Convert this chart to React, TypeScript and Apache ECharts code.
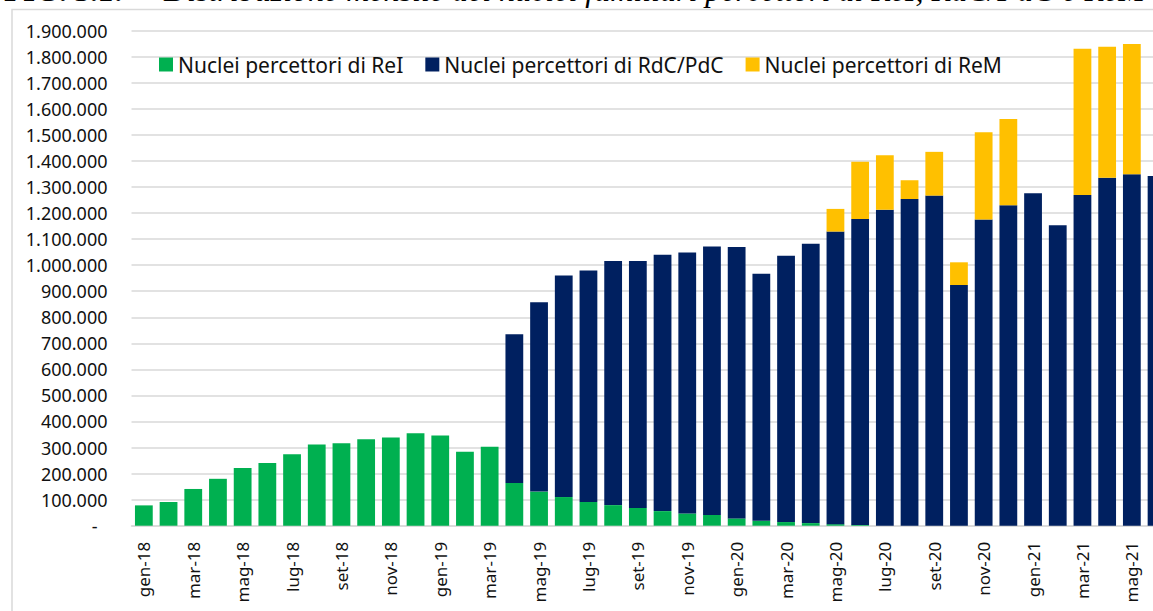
import React, { useEffect, useRef } from "react";
import * as echarts from "echarts";

const months = [
  "gen-18", "feb-18", "mar-18", "apr-18", "mag-18", "giu-18", "lug-18", "ago-18", "set-18", "ott-18", "nov-18", "dic-18",
  "gen-19", "feb-19", "mar-19", "apr-19", "mag-19", "giu-19", "lug-19", "ago-19", "set-19", "ott-19", "nov-19", "dic-19",
  "gen-20", "feb-20", "mar-20", "apr-20", "mag-20", "giu-20", "lug-20", "ago-20", "set-20", "ott-20", "nov-20", "dic-20",
  "gen-21", "feb-21", "mar-21", "apr-21", "mag-21", "giu-21",
];

const reiValues = [
  78000, 91000, 141000, 180000, 221000, 241000, 274000, 312000, 316000, 332000, 339000, 355000,
  346000, 284000, 303000, 164000, 131000, 110000, 91000, 79000, 68000, 56000, 47000, 41000,
  28000, 19000, 14000, 10000, 6000, 3000, 0, 0, 0, 0, 0, 0,
  0, 0, 0, 0, 0, 0,
];

const rdcValues = [
  0, 0, 0, 0, 0, 0, 0, 0, 0, 0, 0, 0,
  0, 0, 0, 571000, 727000, 850000, 889000, 937000, 948000, 984000, 1002000, 1031000,
  1042000, 948000, 1022000, 1072000, 1123000, 1174000, 1213000, 1254000, 1267000, 924000, 1175000, 1230000,
  1276000, 1153000, 1269000, 1336000, 1349000, 1342000,
];

const remValues = [
  0, 0, 0, 0, 0, 0, 0, 0, 0, 0, 0, 0,
  0, 0, 0, 0, 0, 0, 0, 0, 0, 0, 0, 0,
  0, 0, 0, 0, 87000, 220000, 209000, 72000, 168000, 87000, 335000, 331000,
  0, 0, 562000, 502000, 500000, 0,
];

const seriesNames = [
  "Nuclei percettori di ReI",
  "Nuclei percettori di RdC/PdC",
  "Nuclei percettori di ReM",
];

const seriesColors = ["#00B050", "#002060", "#FFC000"];

const titleBold = "FIG. 3.1:";
const titleItalic = "Distribuzione mensile dei nuclei familiari percettori di ReI, RdC/PdC e ReM";

const fmt = (v: number) =>
  v === 0 ? "{d|-}" : String(v).replace(/\B(?=(\d{3})+(?!\d))/g, ".");

const FONT = "Noto Sans";

export default function App() {
  const ref = useRef<HTMLDivElement>(null);

  useEffect(() => {
    if (!ref.current) return;
    const chart = echarts.init(ref.current, null, { renderer: "svg" });
    const datasets = [reiValues, rdcValues, remValues];
    chart.setOption({
      animation: false,
      backgroundColor: "#ffffff",
      textStyle: { fontFamily: FONT },
      graphic: [
        {
          type: "rect",
          shape: { x: 12, y: 9.5, width: 1300, height: 700 },
          style: { fill: "none", stroke: "#d9d9d9", lineWidth: 1.5 },
          silent: true,
        },
        {
          type: "text",
          x: 4,
          y: 6,
          style: {
            text: titleBold,
            font: "bold 31px 'Liberation Serif'",
            fill: "#000",
            textVerticalAlign: "bottom",
          },
        },
        {
          type: "text",
          x: 164,
          y: 6,
          style: {
            text: titleItalic,
            font: "italic 32px 'Liberation Serif'",
            fill: "#000",
            textVerticalAlign: "bottom",
          },
        },
      ],
      legend: {
        left: 154,
        top: 49,
        itemWidth: 14,
        itemHeight: 14,
        itemGap: 22,
        icon: "rect",
        textStyle: { fontFamily: FONT, fontSize: 21, color: "#111" },
        data: seriesNames,
      },
      grid: { left: 131.5, top: 30.7, bottom: 85.3, right: 81.1, containLabel: false },
      xAxis: {
        type: "category",
        data: months,
        axisLine: { lineStyle: { color: "#d9d9d9", width: 1.5 } },
        axisTick: { show: false },
        axisLabel: {
          rotate: 90,
          interval: 1,
          margin: 16,
          fontFamily: FONT,
          fontSize: 17,
          color: "#111",
        },
      },
      yAxis: {
        type: "value",
        min: 0,
        max: 1900000,
        interval: 100000,
        axisLine: { show: false },
        axisTick: { show: false },
        splitLine: { lineStyle: { color: "#d9d9d9", width: 1.5 } },
        axisLabel: {
          margin: 24,
          fontFamily: FONT,
          fontSize: 18,
          color: "#111",
          formatter: fmt,
          rich: { d: { fontFamily: FONT, fontSize: 18, color: "#111", padding: [0, 10, 0, 0] } },
        },
      },
      series: datasets.map((d, i) => ({
        name: seriesNames[i],
        type: "bar",
        stack: "total",
        data: d,
        barCategoryGap: "28%",
        itemStyle: { color: seriesColors[i] },
      })),
    });
    return () => chart.dispose();
  }, []);

  return (
    <div
      style={{
        position: "fixed",
        left: 0,
        top: 0,
        width: 1153,
        height: 611,
        overflow: "hidden",
        background: "#fff",
      }}
    >
      <div ref={ref} style={{ width: 1250, height: 611 }} />
    </div>
  );
}
